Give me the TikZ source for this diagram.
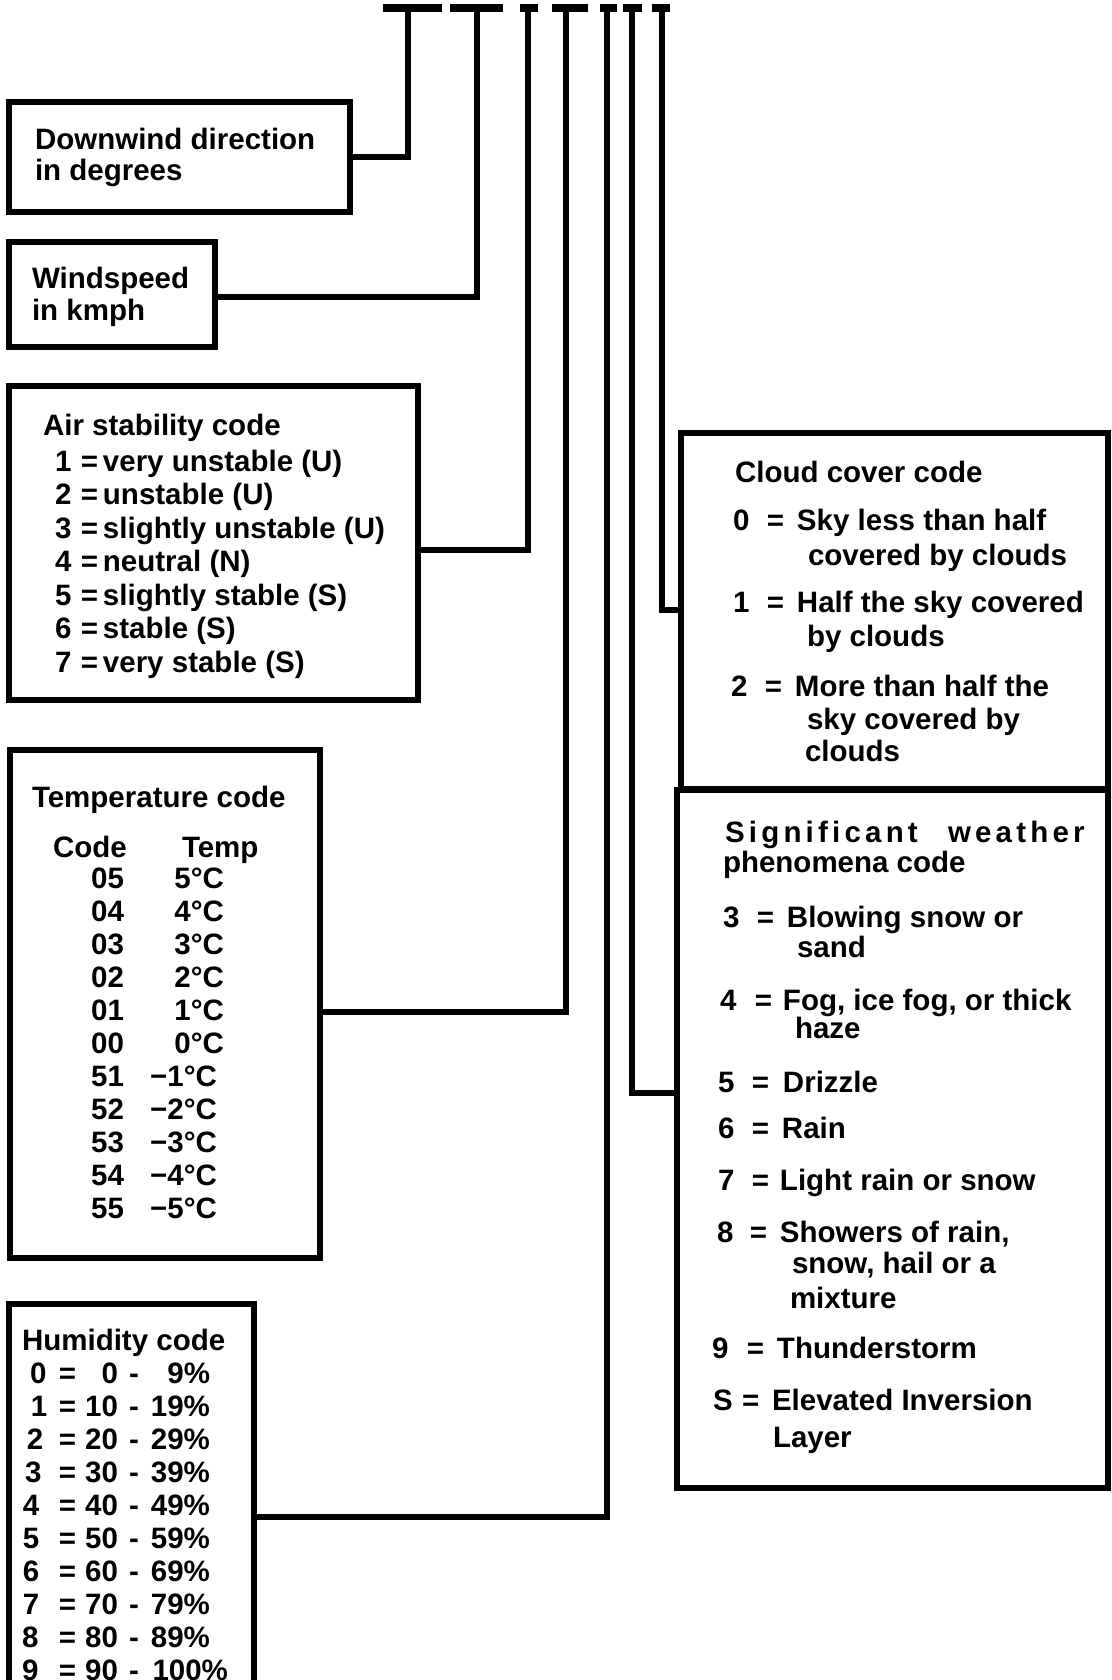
\documentclass[tikz,border=0pt]{standalone}
\usepackage{fontspec}
\setmainfont{Liberation Sans}
\newcommand\arow[2]{\makebox[26pt][l]{#1}\makebox[22pt][l]{=}#2}
\newcommand\crow[2]{\makebox[34pt][l]{#1}\makebox[30pt][l]{=}#2}
% weather row: digit box width, eq box width, digit, text
\newcommand\wrow[4]{\makebox[#1pt][l]{#3}\makebox[#2pt][l]{=}#4}
% temperature row
\newcommand\trow[3]{\makebox[62pt][r]{#1}\makebox[#3pt][r]{#2}}
% humidity row: digit indent, digit, from, to, pct box width
\newcommand\hrow[5]{\makebox[59pt][l]{\hspace{#1pt}#2}\makebox[22pt][l]{=}\makebox[37pt][r]{#3}\makebox[32pt][c]{-}\makebox[#5pt][r]{#4}}
\def\spaceout#1{\spaceoutA#1\relax}
\def\spaceoutA#1{\ifx#1\relax\else#1\kern4.2pt\expandafter\spaceoutA\fi}
\begin{document}
\begin{tikzpicture}[x=1pt,y=-1pt,
  box/.style={draw, line width=6.5pt, inner sep=0pt, outer sep=0pt, anchor=north west},
  conn/.style={line width=6.5pt},
  bar/.style={line width=8pt},
  txt/.style={anchor=base west, inner sep=0pt, outer sep=0pt, font=\bfseries\fontsize{29.5}{33}\selectfont}]
\useasboundingbox (0,0) rectangle (1111,1680);
\clip (0,0) rectangle (1111,1680);

% ---------- boxes ----------
\node[box, minimum width=341pt, minimum height=110pt] (b1) at (9,102) {};
\node[box, minimum width=206pt, minimum height=105pt] (b2) at (9,242) {};
\node[box, minimum width=409pt, minimum height=314pt] (b3) at (9,386) {};
\node[box, minimum width=310pt, minimum height=508pt] (b4) at (10,750) {};
\node[box, minimum width=245pt, minimum height=450pt] (b5) at (9,1304) {};
\node[box, minimum width=427pt, minimum height=356pt] (b6) at (681,433) {};
\node[box, minimum width=431pt, minimum height=698pt] (b7) at (677,790) {};

% ---------- top bars ----------
\coordinate (a1) at (383,8); \coordinate (e1) at (442,8);
\coordinate (a2) at (450,8); \coordinate (e2) at (503,8);
\coordinate (a3) at (520,8); \coordinate (e3) at (538,8);
\coordinate (a4) at (552,8); \coordinate (e4) at (588,8);
\coordinate (a5) at (600,8); \coordinate (e5) at (617,8);
\coordinate (a6) at (623,8); \coordinate (e6) at (642,8);
\coordinate (a7) at (652,8); \coordinate (e7) at (670,8);
\foreach \i in {1,...,7} {\draw[bar] (a\i) -- (e\i);}

\coordinate (t1) at (408,8);
\coordinate (t2) at (477,8);
\coordinate (t3) at (528,8);
\coordinate (t4) at (566,8);
\coordinate (t5) at (607,8);
\coordinate (t6) at (632,8);
\coordinate (t7) at (662,8);

\coordinate (j1) at (408,157);
\coordinate (j2) at (477,297);
\coordinate (j3) at (528,550);
\coordinate (j4) at (566,1012);
\coordinate (j5) at (607,1517);
\coordinate (j6) at (632,1093);
\coordinate (j7) at (662,610);

\draw[conn] (t1) -- (j1) -- (j1 -| b1.east);
\draw[conn] (t2) -- (j2) -- (j2 -| b2.east);
\draw[conn] (t3) -- (j3) -- (j3 -| b3.east);
\draw[conn] (t4) -- (j4) -- (j4 -| b4.east);
\draw[conn] (t5) -- (j5) -- (j5 -| b5.east);
\draw[conn] (t6) -- (j6) -- (j6 -| b7.west);
\draw[conn] (t7) -- (j7) -- (j7 -| b6.west);

% ---------- box 1, 2 ----------
\node[txt] (l1a) at (35,150) {Downwind direction};
\node[txt] (l1b) at (35,181) {in degrees};
\node[txt] (l2a) at (32,288) {Windspeed};
\node[txt] (l2b) at (32,320) {in kmph};

% ---------- air stability ----------
\node[txt] (s0) at (43,435) {Air stability code};
\node[txt] (s1) at (55,471) {\arow{1}{very unstable (U)}};
\node[txt] (s2) at (55,504.5) {\arow{2}{unstable (U)}};
\node[txt] (s3) at (55,538) {\arow{3}{slightly unstable (U)}};
\node[txt] (s4) at (55,571.5) {\arow{4}{neutral (N)}};
\node[txt] (s5) at (55,605) {\arow{5}{slightly stable (S)}};
\node[txt] (s6) at (55,638.5) {\arow{6}{stable (S)}};
\node[txt] (s7) at (55,672) {\arow{7}{very stable (S)}};

% ---------- temperature ----------
\node[txt] (tc) at (32,807) {Temperature code};
\node[txt] (tcode) at (53,857) {Code};
\node[txt] (ttemp) at (182,857) {Temp};
\node[txt] (tr1) at (62,888) {\trow{05}{5°C}{100}};
\node[txt] (tr2) at (62,921) {\trow{04}{4°C}{100}};
\node[txt] (tr3) at (62,954) {\trow{03}{3°C}{100}};
\node[txt] (tr4) at (62,987) {\trow{02}{2°C}{100}};
\node[txt] (tr5) at (62,1020) {\trow{01}{1°C}{100}};
\node[txt] (tr6) at (62,1053) {\trow{00}{0°C}{100}};
\node[txt] (tr7) at (62,1086) {\trow{51}{−1°C}{93}};
\node[txt] (tr8) at (62,1119) {\trow{52}{−2°C}{93}};
\node[txt] (tr9) at (62,1152) {\trow{53}{−3°C}{93}};
\node[txt] (tr10) at (62,1185) {\trow{54}{−4°C}{93}};
\node[txt] (tr11) at (62,1218) {\trow{55}{−5°C}{93}};

% ---------- humidity ----------
\node[txt] (hc) at (22,1350) {Humidity code};
\node[txt] (h0) at (0,1383) {\hrow{30}{0}{0}{9\%}{60}};
\node[txt] (h1) at (0,1416) {\hrow{31}{1}{10}{19\%}{60}};
\node[txt] (h2) at (0,1449) {\hrow{27}{2}{20}{29\%}{60}};
\node[txt] (h3) at (0,1482) {\hrow{25}{3}{30}{39\%}{60}};
\node[txt] (h4) at (0,1515) {\hrow{23}{4}{40}{49\%}{60}};
\node[txt] (h5) at (0,1548) {\hrow{23}{5}{50}{59\%}{60}};
\node[txt] (h6) at (0,1581) {\hrow{23}{6}{60}{69\%}{60}};
\node[txt] (h7) at (0,1614) {\hrow{23}{7}{70}{79\%}{60}};
\node[txt] (h8) at (0,1647) {\hrow{22}{8}{80}{89\%}{60}};
\node[txt] (h9) at (0,1680) {\hrow{22}{9}{90}{100\%}{78}};

% ---------- cloud cover ----------
\node[txt] (cc) at (735,482) {Cloud cover code};
\node[txt] (c0) at (733,530) {\crow{0}{Sky less than half}};
\node[txt] (c0b) at (808,565) {covered by clouds};
\node[txt] (c1) at (733,612) {\crow{1}{Half the sky covered}};
\node[txt] (c1b) at (807,646) {by clouds};
\node[txt] (c2) at (731,696) {\crow{2}{More than half the}};
\node[txt] (c2b) at (807,729) {sky covered by};
\node[txt] (c2c) at (805,761) {clouds};

% ---------- weather ----------
\node[txt] (w0a) at (725,842) {\spaceout{Significant}};
\node[txt] (w0b) at (948,842) {\spaceout{weather}};
\node[txt] (w0c) at (723,872) {phenomena code};
\node[txt] (w3) at (723,927) {\wrow{34}{30}{3}{Blowing snow or}};
\node[txt] (w3b) at (797,957) {sand};
\node[txt] (w4) at (720,1010) {\wrow{35}{28}{4}{Fog, ice fog, or thick}};
\node[txt] (w4b) at (795,1038) {haze};
\node[txt] (w5) at (718,1092) {\wrow{34}{31}{5}{Drizzle}};
\node[txt] (w6) at (718,1138) {\wrow{34}{30}{6}{Rain}};
\node[txt] (w7) at (718,1190) {\wrow{34}{28}{7}{Light rain or snow}};
\node[txt] (w8) at (717,1242) {\wrow{33}{30}{8}{Showers of rain,}};
\node[txt] (w8b) at (792,1273) {snow, hail or a};
\node[txt] (w8c) at (790,1308) {mixture};
\node[txt] (w9) at (712,1358) {\wrow{35}{30}{9}{Thunderstorm}};
\node[txt] (wS) at (713,1410) {\wrow{29}{30}{S}{Elevated Inversion}};
\node[txt] (wSb) at (773,1447) {Layer};
\end{tikzpicture}
\end{document}
